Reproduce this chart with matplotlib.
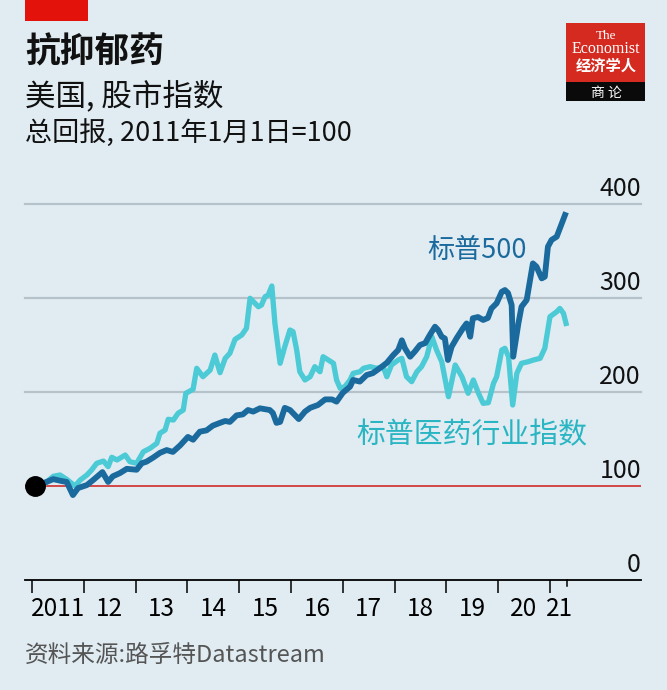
#!/usr/bin/env python3
import matplotlib
matplotlib.use("Agg")
import matplotlib.pyplot as plt
from matplotlib.patches import Rectangle
from matplotlib.transforms import blended_transform_factory

# values (decimal year, index 1 Jan 2011 = 100)
sp500_t = [
    2011.06, 2011.28, 2011.41, 2011.57, 2011.67, 2011.79, 2011.89, 2012.06, 2012.18, 2012.36,
    2012.47, 2012.56, 2012.70, 2012.83, 2013.02, 2013.12, 2013.21, 2013.34, 2013.47, 2013.60,
    2013.72, 2013.86, 2014.01, 2014.11, 2014.24, 2014.37, 2014.49, 2014.63, 2014.73, 2014.82,
    2014.95, 2015.07, 2015.17, 2015.27, 2015.40, 2015.59, 2015.65, 2015.72, 2015.79, 2015.88,
    2015.98, 2016.08, 2016.15, 2016.27, 2016.37, 2016.52, 2016.66, 2016.79, 2016.88, 2017.00,
    2017.14, 2017.20, 2017.33, 2017.46, 2017.58, 2017.72, 2017.85, 2017.97, 2018.07, 2018.14,
    2018.20, 2018.30, 2018.39, 2018.49, 2018.59, 2018.68, 2018.78, 2018.84, 2018.91, 2018.97,
    2019.03, 2019.10, 2019.20, 2019.32, 2019.39, 2019.46, 2019.51, 2019.61, 2019.71, 2019.80,
    2019.87, 2019.97, 2020.07, 2020.13, 2020.19, 2020.26, 2020.29, 2020.39, 2020.45, 2020.55,
    2020.67, 2020.74, 2020.84, 2020.90, 2020.96, 2021.03, 2021.13, 2021.29,
]
sp500_v = [
    100, 104, 107, 105, 104, 90, 97.5, 100.7, 106, 114.5,
    104, 110, 113.5, 118, 117, 124, 125.6, 130, 135, 138,
    136, 143, 152, 149, 157.6, 159, 164, 167, 169, 168,
    175, 176, 180.7, 179, 182.5, 180.7, 177.5, 167, 168, 183,
    180.7, 175, 171, 179, 183, 186, 192, 192, 189.6, 199,
    205.6, 212.7, 211, 218, 220, 225.5, 231, 239, 244.7, 255,
    246.5, 237.5, 243, 250, 252, 260.7, 269.5, 266, 258.8, 257,
    234, 248, 257.5, 267.8, 273, 258.8, 278.5, 279.8, 276.7, 278.8,
    289, 294.5, 306.8, 308.6, 305.4, 292.6, 237.5, 273, 290.8, 298,
    337, 333.5, 321, 322.8, 354.8, 362, 365.5, 388.6,
]

pharma_t = [
    2011.06, 2011.25, 2011.41, 2011.54, 2011.67, 2011.83, 2011.93, 2012.06, 2012.15, 2012.25,
    2012.38, 2012.47, 2012.54, 2012.64, 2012.80, 2012.89, 2013.02, 2013.15, 2013.28, 2013.41,
    2013.47, 2013.57, 2013.63, 2013.73, 2013.82, 2013.92, 2013.97, 2014.11, 2014.18, 2014.30,
    2014.44, 2014.53, 2014.63, 2014.73, 2014.82, 2014.92, 2015.05, 2015.14, 2015.21, 2015.37,
    2015.43, 2015.50, 2015.56, 2015.63, 2015.69, 2015.79, 2015.88, 2015.98, 2016.04, 2016.11,
    2016.17, 2016.27, 2016.37, 2016.46, 2016.56, 2016.62, 2016.72, 2016.82, 2016.88, 2016.95,
    2017.04, 2017.14, 2017.20, 2017.33, 2017.40, 2017.53, 2017.65, 2017.78, 2017.85, 2017.94,
    2018.07, 2018.14, 2018.23, 2018.33, 2018.43, 2018.52, 2018.62, 2018.72, 2018.81, 2018.91,
    2019.04, 2019.17, 2019.30, 2019.42, 2019.52, 2019.62, 2019.71, 2019.81, 2019.91, 2019.97,
    2020.07, 2020.13, 2020.20, 2020.28, 2020.36, 2020.45, 2020.58, 2020.68, 2020.81, 2020.90,
    2021.00, 2021.13, 2021.19, 2021.26, 2021.31,
]
pharma_v = [
    100, 102.5, 110, 111.4, 106.8, 99.7, 106, 111.4, 116.7, 123.9,
    126.3, 120.3, 130.3, 127.4, 132.7, 125.6, 123.9, 136.2, 139.9, 145.2,
    155.9, 159.4, 170.8, 170, 177.2, 180.7, 198.5, 202.8, 225.2, 216.2,
    223.3, 239.3, 220.5, 235.8, 241.2, 256, 260.7, 267.8, 299.8, 290.8,
    292.6, 301.5, 303.3, 312.9, 273, 230.5, 248.2, 266, 264.2, 244.7,
    221.5, 212.7, 216.2, 226.9, 221.5, 237.5, 234, 230.5, 212.7, 203.8,
    205.6, 212.7, 219.8, 221.5, 225.2, 226.9, 225.2, 226.9, 216.2, 228.7,
    234, 235.8, 216.2, 210.9, 221.5, 226.9, 237.5, 258.8, 244.7, 232.2,
    194.9, 228.7, 216.2, 198.5, 212.7, 198.5, 187.8, 188.5, 209.2, 216.2,
    244.7, 246.5, 237.5, 186, 219.8, 230.5, 232.2, 234, 235.8, 246.5,
    280.2, 285.5, 289, 283.8, 273,
]

year_ticks = list(range(2011, 2022))
end_tick = 2021.33
year_label_pos = [y + 0.5 for y in range(2011, 2021)] + [2021.18]
year_labels = ["2011", "12", "13", "14", "15", "16", "17", "18", "19", "20", "21"]
y_grid = [200, 300, 400]
y_labels = [0, 100, 200, 300, 400]

BG = "#e0ecf2"
DARK = "#1b6a9e"
CYAN = "#4ccad5"
CYAN_TXT = "#2ab5c3"
GRID = "#b5c2c9"
RED = "#e3120b"

W, H = 667, 690


def px(x, y):
    return x / W, 1 - y / H


plt.rcParams["font.family"] = ["Noto Sans CJK SC", "DejaVu Sans"]

fig = plt.figure(figsize=(W / 100, H / 100), dpi=100, facecolor=BG)

# plot area: x 25..641 px, value 0 at y=579.5 px, 400 at y=204.3 px
ax = fig.add_axes([25 / W, (H - 579.5) / H, 616 / W, (579.5 - 204.3) / H])
ax.set_facecolor(BG)
ax.set_xlim(2010.865, 2022.757)
ax.set_ylim(0, 400)

for v in y_grid:
    ax.axhline(v, color=GRID, lw=1.6, zorder=1, clip_on=False)
ax.axhline(100, color="#d23b3b", lw=1.3, zorder=1)

ax.plot(pharma_t, pharma_v, color=CYAN, lw=3.8, solid_joinstyle="round", zorder=3, clip_on=False)
ax.plot(sp500_t, sp500_v, color=DARK, lw=4.2, solid_joinstyle="round", zorder=4, clip_on=False)
ax.plot([sp500_t[0]], [sp500_v[0]], "o", color="black", ms=14, zorder=5, clip_on=False)

for s in ("top", "left", "right"):
    ax.spines[s].set_visible(False)
ax.spines["bottom"].set_color("black")
ax.spines["bottom"].set_linewidth(1.3)
ax.set_yticks([])

ax.set_xticks(year_ticks)
ax.set_xticklabels([])
ax.set_xticks(year_label_pos, minor=True)
ax.set_xticklabels(year_labels, minor=True, fontsize=17.5)
ax.tick_params(axis="x", which="major", direction="out", length=9, width=1.1, color="black")
ax.tick_params(axis="x", which="minor", length=0, pad=12)
# shorter tick marking the end of the data
ax.plot([end_tick, end_tick], [0, -6.5], color="black", lw=1.1, clip_on=False, zorder=2)

tr = blended_transform_factory(ax.transAxes, ax.transData)
for v in y_labels:
    ax.text(1.0, v + 2, str(v), transform=tr, ha="right", va="bottom", fontsize=18, color="#111111")

# headline block
fig.patches.append(Rectangle((25 / W, 1 - 21 / H), 63 / W, 21 / H, transform=fig.transFigure,
                             facecolor=RED, edgecolor="none"))
fig.text(*px(25, 62), "抗抑郁药", fontsize=25, fontweight="bold", va="baseline", color="#111111")
fig.text(*px(25, 105), "美国, 股市指数", fontsize=22, va="baseline", color="#111111")
fig.text(*px(25, 141), "总回报, 2011年1月1日=100", fontsize=19.5, va="baseline", color="#111111")

# series labels
fig.text(*px(427, 258), "标普500", fontsize=19.5, va="baseline", color=DARK)
fig.text(*px(356, 443), "标普医药行业指数", fontsize=20.8, va="baseline", color=CYAN_TXT)

fig.text(*px(25, 662), "资料来源:路孚特Datastream", fontsize=17, va="baseline", color="#555555")

# logo
fig.patches.append(Rectangle((566 / W, 1 - 82 / H), 79 / W, 59 / H, transform=fig.transFigure,
                             facecolor="#d42a20", edgecolor="none"))
fig.patches.append(Rectangle((566 / W, 1 - 101 / H), 79 / W, 19 / H, transform=fig.transFigure,
                             facecolor="#0a0a0a", edgecolor="none"))
fig.text(*px(606, 39), "The", fontsize=9.5, family="Liberation Serif", color="white",
         ha="center", va="baseline")
fig.text(*px(606, 53), "Economist", fontsize=11.5, family="Liberation Serif", color="white",
         ha="center", va="baseline")
fig.text(*px(606, 71), "经济学人", fontsize=11, fontweight="bold", color="white",
         ha="center", va="baseline")
fig.text(*px(606, 97), "商 论", fontsize=10, color="white", ha="center", va="baseline")

fig.savefig("out.png", dpi=100, facecolor=BG)
